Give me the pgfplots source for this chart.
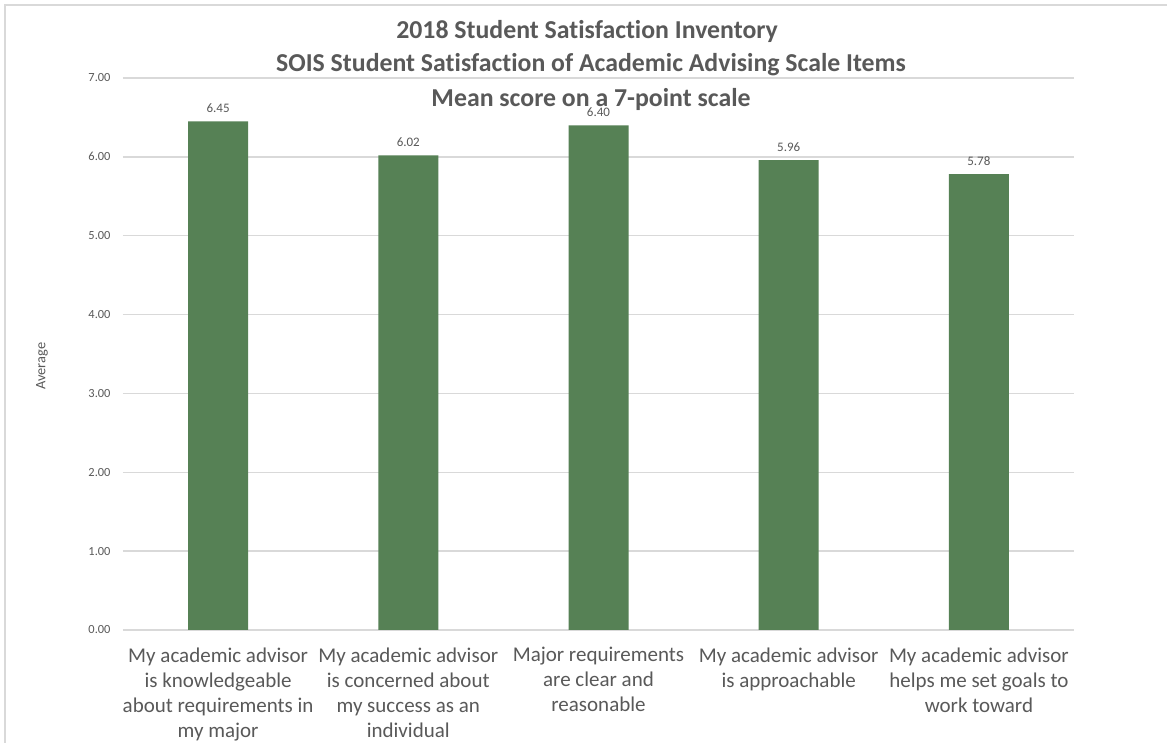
\documentclass[border=0pt]{standalone}
\usepackage{pgfplots}
\pgfplotsset{compat=1.18}
\usepackage{fontspec}
\setmainfont{Carlito}[Ligatures=NoCommon]
\definecolor{bargreen}{RGB}{86,129,85}
\definecolor{txt}{RGB}{89,89,89}
\definecolor{gridc}{RGB}{217,217,217}
\begin{document}
\begin{tikzpicture}[x=1pt,y=1pt]
\useasboundingbox (-123,-113) rectangle (1044,630);
\fill[white] (-123,-113) rectangle (1044,630);
\draw[gridc, line width=1.5pt] (-118,-113) -- (-118,625) -- (1044,625);
\begin{axis}[
  scale only axis, width=951pt, height=552pt,
  xmin=-0.5, xmax=4.5, ymin=0, ymax=7,
  ybar, bar width=60pt,
  axis line style={draw=none},
  major tick length=0pt,
  ytick={0,1,2,3,4,5,6,7},
  ymajorgrids, grid style={gridc, line width=1.4pt},
  /pgf/number format/assume math mode=true,
  yticklabel style={font=\fontsize{12.4}{14}\selectfont, text=txt,
    /pgf/number format/fixed, /pgf/number format/fixed zerofill,
    /pgf/number format/precision=2, xshift=-9pt},
  xtick={0,1,2,3,4},
  xticklabels={{My academic advisor\\is knowledgeable\\about requirements in\\my major},
    {My academic advisor\\is concerned about\\my success as an\\individual},
    {Major requirements\\are clear and\\reasonable},
    {My academic advisor\\is approachable},
    {My academic advisor\\helps me set goals to\\work toward}},
  xticklabel style={font=\fontsize{21}{25}\selectfont, text=txt, align=center, yshift=-14pt},
  ylabel={Average},
  ylabel style={at={(axis description cs:-0.0852,0.478)}, anchor=center,
    font=\fontsize{14.4}{16}\selectfont, text=txt},
  nodes near coords,
  every node near coord/.append style={font=\fontsize{13}{15}\selectfont, text=txt,
    /pgf/number format/fixed, /pgf/number format/fixed zerofill,
    /pgf/number format/precision=2, yshift=5pt},
  clip=false,
]
\addplot[fill=bargreen, draw=none] coordinates {(0,6.45) (1,6.02) (2,6.40) (3,5.96) (4,5.78)};
\end{axis}
\node[anchor=base, text=txt, font=\fontsize{25.8}{30}\selectfont\bfseries] at (464,591.5) {2018 Student Satisfaction Inventory};
\node[anchor=base, text=txt, font=\fontsize{25.8}{30}\selectfont\bfseries] at (468,558) {SOIS Student Satisfaction of Academic Advising Scale Items};
\node[anchor=base, text=txt, font=\fontsize{25.8}{30}\selectfont\bfseries] at (468,523.5) {Mean score on a 7-point scale};
\end{tikzpicture}
\end{document}
